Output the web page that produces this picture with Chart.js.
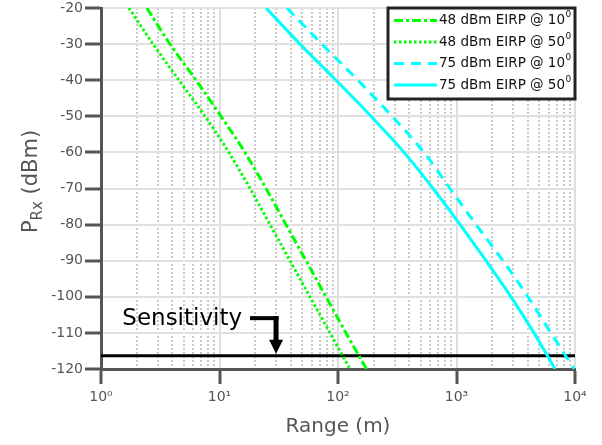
<!DOCTYPE html>
<html>
<head>
<meta charset="utf-8">
<script src="https://cdn.jsdelivr.net/npm/chart.js@4.4.1/dist/chart.umd.min.js"></script>
<style>
  html, body { margin: 0; padding: 0; background: #fff; }
  #wrap { position: relative; width: 602px; height: 445px; }
</style>
</head>
<body>
<div id="wrap"><canvas id="rangeChart"></canvas></div>
<script>
// Received power levels (dBm) at which each link curve is sampled
const powerLevels = [-20, -30, -40, -50, -60, -70, -80, -90, -100, -110, -120];

// Range (m) where each link reaches the levels above
const range48at10 = [2.44, 3.82, 6.34, 10.3, 16.4, 24.7, 36.4, 53.7, 79.2, 116.8, 174];
const range48at50 = [1.72, 2.75, 4.55, 7.55, 12.0, 18.1, 26.7, 39.3, 58.0, 85.6, 126.2];
const range75at10 = [37.1, 73.3, 147, 286, 531, 881, 1462, 2466, 4009, 6266, 9817];
const range75at50 = [24.7, 47.8, 96.2, 190, 361, 634, 1072, 1774, 2884, 4508, 6776];

const seriesLabels = ['48 dBm EIRP @ 10', '48 dBm EIRP @ 50', '75 dBm EIRP @ 10', '75 dBm EIRP @ 50'];

// Receiver sensitivity and where the callout arrow points
const sensitivity = -116.3;
const sensitivityMarkRange = 30;

const decadeLabels = ['10\u2070', '10\u00b9', '10\u00b2', '10\u00b3', '10\u2074'];
const decades = [1, 10, 100, 1000, 10000];

const isDecade = v => v > 0 && Math.abs(Math.log10(v) - Math.round(Math.log10(v))) < 1e-9;

// 1..9 per decade for the log grid
const gridValues = [];
decades.slice(0, -1).forEach(d => { for (let m = 1; m <= 9; m++) gridValues.push(m * d); });
gridValues.push(decades[decades.length - 1]);

const toPoints = ranges => ranges.map((r, i) => ({ x: r, y: powerLevels[i] }));

const FONT = '"DejaVu Sans", Verdana, sans-serif';
Chart.defaults.font.family = FONT;

const legendBox = {
  id: 'legendBox',
  afterDraw(chart) {
    const { ctx, chartArea } = chart;
    const w = 187, h = 91;
    const x0 = chartArea.right - w, y0 = chartArea.top;
    ctx.save();
    ctx.fillStyle = '#fff';
    ctx.fillRect(x0, y0, w, h);
    ctx.lineWidth = 3;
    ctx.strokeStyle = '#222';
    ctx.strokeRect(x0, y0, w, h);
    chart.data.datasets.slice(0, 4).forEach((ds, i) => {
      const y = y0 + 12.5 + i * 21.5;
      ctx.beginPath();
      ctx.setLineDash(ds.borderDash || []);
      ctx.strokeStyle = ds.borderColor;
      ctx.lineWidth = 3;
      ctx.moveTo(x0 + 6, y);
      ctx.lineTo(x0 + 49, y);
      ctx.stroke();
      ctx.setLineDash([]);
      ctx.fillStyle = '#111';
      ctx.font = '13.5px ' + FONT;
      ctx.textAlign = 'left';
      ctx.textBaseline = 'middle';
      ctx.fillText(ds.label, x0 + 51, y);
      const tw = ctx.measureText(ds.label).width;
      ctx.font = '9px ' + FONT;
      ctx.fillText('0', x0 + 51.5 + tw, y - 5.5);
    });
    ctx.restore();
  }
};

const sensitivityNote = {
  id: 'sensitivityNote',
  afterDatasetsDraw(chart) {
    const { ctx, scales: { x, y } } = chart;
    const px = x.getPixelForValue(sensitivityMarkRange);
    const py = y.getPixelForValue(sensitivity);
    ctx.save();
    ctx.fillStyle = '#000';
    ctx.fillRect(px - 26, py - 39.5, 28.5, 4);
    ctx.fillRect(px - 2.5, py - 39.5, 5, 24);
    ctx.beginPath();
    ctx.moveTo(px - 7, py - 16);
    ctx.lineTo(px + 7, py - 16);
    ctx.lineTo(px, py - 2);
    ctx.closePath();
    ctx.fill();
    ctx.font = '23px ' + FONT;
    ctx.textAlign = 'right';
    ctx.textBaseline = 'alphabetic';
    ctx.fillText('Sensitivity', px - 34, py - 31);
    ctx.restore();
  }
};

// y title with the Rx subscript
const yTitle = {
  id: 'yTitle',
  afterDraw(chart) {
    const { ctx, chartArea } = chart;
    const cy = (chartArea.top + chartArea.bottom) / 2 - 7;
    const big = '21px ' + FONT, small = '15px ' + FONT;
    ctx.save();
    ctx.translate(37, cy);
    ctx.rotate(-Math.PI / 2);
    ctx.fillStyle = '#555';
    ctx.textAlign = 'left';
    ctx.textBaseline = 'alphabetic';
    ctx.font = big;
    const wP = ctx.measureText('P').width;
    const wRest = ctx.measureText(' (dBm)').width;
    ctx.font = small;
    const wSub = ctx.measureText('Rx').width;
    let x = -(wP + wSub + wRest) / 2;
    ctx.font = big;  ctx.fillText('P', x, 0); x += wP;
    ctx.font = small; ctx.fillText('Rx', x, 5); x += wSub;
    ctx.font = big;  ctx.fillText(' (dBm)', x, 0);
    ctx.restore();
  }
};

const ctx = document.getElementById('rangeChart').getContext('2d');
const rangeChart = new Chart(ctx, {
  type: 'line',
  data: {
    datasets: [
      {
        label: seriesLabels[0],
        data: toPoints(range48at10),
        borderColor: '#00ff00',
        borderWidth: 3,
        borderDash: [9, 3, 3, 3]
      },
      {
        label: seriesLabels[1],
        data: toPoints(range48at50),
        borderColor: '#00ff00',
        borderWidth: 3,
        borderDash: [2.5, 2.5]
      },
      {
        label: seriesLabels[2],
        data: toPoints(range75at10),
        borderColor: '#00ffff',
        borderWidth: 3,
        borderDash: [10, 7]
      },
      {
        label: seriesLabels[3],
        data: toPoints(range75at50),
        borderColor: '#00ffff',
        borderWidth: 3
      },
      {
        label: 'Sensitivity',
        data: [{ x: decades[0], y: sensitivity }, { x: decades[decades.length - 1], y: sensitivity }],
        borderColor: '#000',
        borderWidth: 3
      }
    ]
  },
  options: {
    responsive: true,
    maintainAspectRatio: false,
    animation: false,
    elements: {
      point: { radius: 0 },
      line: { cubicInterpolationMode: 'monotone' }
    },
    layout: { padding: { top: 8, right: 27, bottom: 0, left: 0 } },
    plugins: {
      legend: { display: false },
      tooltip: { enabled: false }
    },
    scales: {
      x: {
        type: 'logarithmic',
        min: 1,
        max: 10000,
        afterBuildTicks: scale => {
          scale.ticks = gridValues.map(v => ({ value: v, major: isDecade(v) }));
        },
        afterFit: scale => {
          scale.height = 76;
          scale.paddingLeft = 0;
          scale.paddingRight = 0;
        },
        ticks: {
          autoSkip: false,
          maxRotation: 0,
          padding: 5,
          color: '#555',
          font: { size: 14 },
          callback: v => isDecade(v) ? decadeLabels[Math.round(Math.log10(v))] : ''
        },
        grid: {
          color: c => c.tick && isDecade(c.tick.value) ? '#dedede' : '#c8c8c8',
          lineWidth: c => c.tick && isDecade(c.tick.value) ? 2 : 2,
          tickColor: c => c.tick && isDecade(c.tick.value) ? '#555' : 'rgba(0,0,0,0)',
          tickWidth: 3,
          tickLength: 15
        },
        border: {
          display: true,
          color: '#555',
          width: 3,
          dash: c => c.tick && !isDecade(c.tick.value) ? [2, 2] : []
        },
        title: {
          display: true,
          text: 'Range (m)',
          color: '#555',
          font: { size: 20 },
          padding: { top: 0, bottom: 6 }
        }
      },
      y: {
        min: -120,
        max: -20,
        afterFit: scale => {
          scale.width = 101;
          scale.paddingTop = 0;
          scale.paddingBottom = 0;
        },
        ticks: {
          stepSize: 10,
          padding: 2,
          color: '#555',
          font: { size: 14 }
        },
        grid: {
          color: '#e0e0e0',
          lineWidth: 2,
          tickColor: '#555',
          tickWidth: 3,
          tickLength: 16
        },
        border: { display: true, color: '#555', width: 3 }
      }
    }
  },
  plugins: [sensitivityNote, legendBox, yTitle]
});
</script>
</body>
</html>
